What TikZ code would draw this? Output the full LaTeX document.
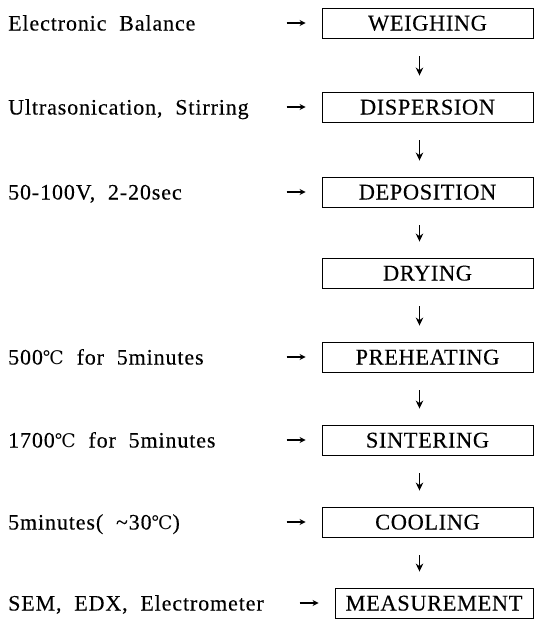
\documentclass[tikz,border=0pt]{standalone}
\usepackage{fontspec}
\setmainfont{Liberation Serif}[LetterSpace=2.5, FakeBold=0.2]
\newfontfamily\notefont{Liberation Serif}[LetterSpace=4, WordSpace=2, FakeBold=0.2]
\newfontfamily\degfont{DejaVu Serif}[Scale=0.85]
\usetikzlibrary{arrows.meta}
\newcommand{\degC}{{\degfont ℃}}

\begin{document}
\begin{tikzpicture}[
    x=1pt, y=-1pt,
    stepbox/.style={draw=black, line width=0.9pt, minimum width=211pt, minimum height=30pt,
        inner sep=0pt, text height=15pt, text depth=0pt, font=\fontsize{22.5}{26}\selectfont},
    note/.style={anchor=base west, inner sep=0pt, font=\notefont\fontsize{22}{25}\selectfont},
    feed/.style={-{Stealth[length=6pt,width=6pt]}, line width=1.1pt, shorten >=16pt},
    flow/.style={-{Stealth[length=8pt,width=7.5pt]}, line width=1.6pt, shorten <=18pt, shorten >=16pt}
]
\useasboundingbox (0,0) rectangle (537,625);

% Process steps
\node[stepbox] (weigh) at (427.5,23) {WEIGHING};
\node[stepbox] (disp) at (427.5,107) {DISPERSION};
\node[stepbox] (depo) at (427.5,192) {DEPOSITION};
\node[stepbox] (dry) at (427.5,273) {DRYING};
\node[stepbox] (preh) at (427.5,357) {PREHEATING};
\node[stepbox] (sint) at (427.5,440) {SINTERING};
\node[stepbox] (cool) at (427.5,522) {COOLING};
\node[stepbox, minimum width=198pt] (meas) at (434,603) {MEASUREMENT};

% Conditions
\node[note] (balance) at (8,30.5) {Electronic Balance};
\node[note] (sonic) at (8,114.5) {Ultrasonication, Stirring};
\node[note] (volt) at (8,199.5) {50-100V, 2-20sec};
\node[note] (pre) at (8,364.5) {500\degC\ for 5minutes};
\node[note] (sin) at (8,447.5) {1700\degC\ for 5minutes};
\node[note] (cooltime) at (8,529.5) {5minutes( \textasciitilde 30\degC)};
\node[note] (tools) at (8,610.5) {SEM, EDX, Electrometer};

% Arrows
\foreach \s in {weigh,disp,depo,preh,sint,cool,meas}
    \path (\s.west) ++(-35pt,0) coordinate (\s-in);
\foreach \s in {weigh,disp,depo,preh,sint,cool,meas}
    \draw[feed] (\s-in) -- (\s);

\foreach \a/\b in {weigh/disp,disp/depo,depo/dry,dry/preh,preh/sint,sint/cool,cool/meas}
    \draw[flow] ([xshift=-8pt]\a.south) -- ([xshift=-8pt]\a.south |- \b.north);

\end{tikzpicture}
\end{document}
